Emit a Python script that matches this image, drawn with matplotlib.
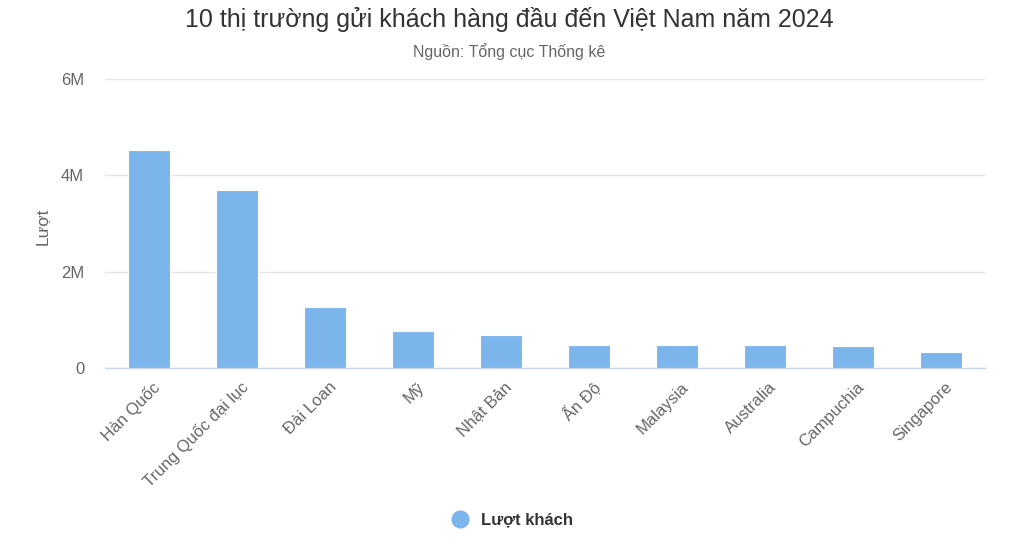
import matplotlib.pyplot as plt
import matplotlib.transforms as mtransforms
from matplotlib.lines import Line2D
from matplotlib.ticker import FuncFormatter

plt.rcParams['font.family'] = ['Liberation Sans', 'DejaVu Sans']

markets = ['Hàn Quốc', 'Trung Quốc đại lục', 'Đài Loan', 'Mỹ', 'Nhật Bản',
           'Ấn Độ', 'Malaysia', 'Australia', 'Campuchia', 'Singapore']
visitors = [4.52e6, 3.70e6, 1.26e6, 0.77e6, 0.69e6,
            0.48e6, 0.48e6, 0.48e6, 0.45e6, 0.33e6]
y_ticks = [0, 2e6, 4e6, 6e6]
series_name = 'Lượt khách'
title = '10 thị trường gửi khách hàng đầu đến Việt Nam năm 2024'
subtitle = 'Nguồn: Tổng cục Thống kê'

bar_color = '#7cb5ec'
W, H = 1023, 539
fig = plt.figure(figsize=(W / 100, H / 100), dpi=100)
ax = fig.add_axes([105 / W, (H - 368) / H, 880 / W, (368 - 79) / H])

x = range(len(markets))
ax.bar(x, visitors, width=0.48, color=bar_color, edgecolor='white', linewidth=0.8, zorder=3)

ax.set_xlim(-0.5, len(markets) - 0.5)
ax.set_ylim(0, 6e6)
ax.set_yticks(y_ticks)
ax.yaxis.set_major_formatter(FuncFormatter(lambda v, p: '0' if v == 0 else f'{v / 1e6:.0f}M'))
ax.grid(axis='y', color='#e6e6e6', linewidth=1, zorder=0)
ax.set_axisbelow(True)
for s in ['top', 'right', 'left']:
    ax.spines[s].set_visible(False)
ax.spines['bottom'].set_color('#ccd6eb')
ax.spines['bottom'].set_linewidth(1)
ax.tick_params(axis='y', length=0, pad=15, labelsize=12, labelcolor='#666666')
ax.tick_params(axis='x', length=0, labelsize=12, labelcolor='#666666')

ax.set_xticks(list(x))
ax.set_xticklabels(markets, rotation=45, ha='right', va='center', rotation_mode='anchor')
offset = mtransforms.ScaledTranslation(9 / 100, -12 / 100, fig.dpi_scale_trans)
for lbl in ax.get_xticklabels():
    lbl.set_transform(lbl.get_transform() + offset)

ax.set_ylabel('Lượt', fontsize=12.5, color='#666666')
ax.yaxis.set_label_coords((50 - 105) / 880, 0.49)

fig.text(509 / W, 1 - 20 / H, title, ha='center', va='center', fontsize=18, color='#333333')
fig.text(509 / W, 1 - 52 / H, subtitle, ha='center', va='center', fontsize=11.5, color='#666666')

handle = Line2D([], [], marker='o', linestyle='none', markersize=12,
                markerfacecolor=bar_color, markeredgecolor=bar_color)
leg = fig.legend([handle], [series_name], loc='center', bbox_to_anchor=(508 / W, 1 - 520 / H),
                 frameon=False, handletextpad=0.3, prop={'weight': 'bold', 'size': 12})
for t in leg.get_texts():
    t.set_color('#333333')

fig.savefig('out.png', dpi=100)
